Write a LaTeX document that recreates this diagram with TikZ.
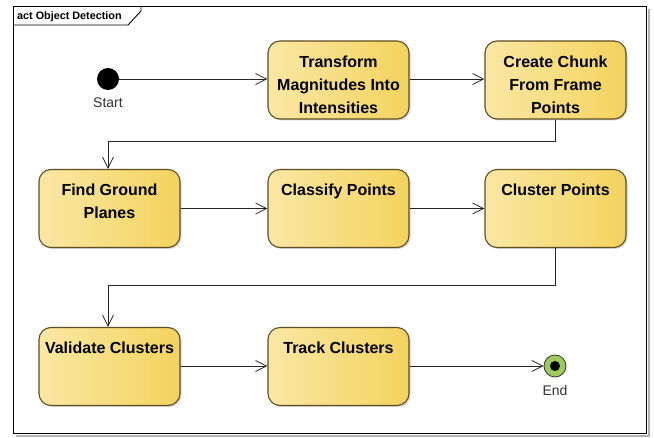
\documentclass[tikz,border=0pt]{standalone}
\usepackage{fontspec}
\setmainfont{Liberation Sans}
\usetikzlibrary{arrows.meta,shadows}
\definecolor{boxL}{HTML}{FAE7A4}
\definecolor{boxR}{HTML}{F3D35E}
\definecolor{boxD}{HTML}{5E4E22}
\definecolor{endG}{HTML}{9CCB5C}
\begin{document}
\begin{tikzpicture}[x=1pt,y=-1pt,
  box/.style={draw=boxD, line width=1.1pt, rounded corners=12pt, minimum width=141pt, minimum height=78pt, inner sep=0pt,
    left color=boxL, right color=boxR, drop shadow={shadow xshift=1.5pt, shadow yshift=-1.5pt, fill=black!30}},
  lbl/.style={font=\fontsize{16}{23}\selectfont\bfseries, align=center, inner sep=0pt, text=black},
  flow/.style={draw=black!85, line width=0.8pt, -{Straight Barb[length=11pt,width=11pt,line width=0.8pt]}},
  nodecaption/.style={font=\fontsize{14}{16}\selectfont, text=black!80, inner sep=0pt}
]
\useasboundingbox (0,0) rectangle (654,438);
% frame
\draw[black!30, line width=1.5pt] (16,436) -- (649,436) -- (649,9);
\draw[black, line width=0.9pt, fill=white] (13,6) rectangle (646,433);
\draw[black, line width=0.9pt] (13,25) -- (128,25) -- (141,11) -- (141,6);
\node[font=\fontsize{10.8}{12}\selectfont\bfseries, anchor=base west, inner sep=0pt] (title) at (17,19.5) {act Object Detection};

% start
\node[circle, fill=black, minimum size=22pt, inner sep=0pt] (start) at (108,79) {};
\node[nodecaption, anchor=base] (startlbl) at (108,108) {Start};

% boxes
\node[box] (transform) at (338.5,80) {};
\node[box] (chunk) at (555.5,80) {};
\node[box] (ground) at (109.5,208.5) {};
\node[box] (classify) at (338.5,208.5) {};
\node[box] (cluster) at (555.5,208.5) {};
\node[box] (validate) at (109.5,366.5) {};
\node[box] (track) at (338.5,366.5) {};

\node[lbl, anchor=north] (transformT) at ([yshift=-15pt]transform.north) {Transform\\Magnitudes Into\\Intensities};
\node[lbl, anchor=north] (chunkT) at ([yshift=-15pt]chunk.north) {Create Chunk\\From Frame\\Points};
\node[lbl, anchor=north] (groundT) at ([yshift=-15pt]ground.north) {Find Ground\\Planes};
\node[lbl, anchor=north] (classifyT) at ([yshift=-15pt]classify.north) {Classify Points};
\node[lbl, anchor=north] (clusterT) at ([yshift=-15pt]cluster.north) {Cluster Points};
\node[lbl, anchor=north] (validateT) at ([yshift=-15pt]validate.north) {Validate Clusters};
\node[lbl, anchor=north] (trackT) at ([yshift=-15pt]track.north) {Track Clusters};

% end
\node[circle, draw=black!80, line width=0.8pt, fill=endG, minimum size=22pt, inner sep=0pt] (end) at (555,366) {};
\node[circle, fill=black, minimum size=10pt, inner sep=0pt] (enddot) at (end.center) {};
\node[nodecaption, anchor=base] (endlbl) at (555,396) {End};

% connectors
\coordinate (c1a) at (555.5,141);
\coordinate (c1b) at (108,141);
\coordinate (c2a) at (555.5,285);
\coordinate (c2b) at (108,285);
\draw[flow] (start) -- (transform.west |- start);
\draw[flow] (transform.east |- start) -- (chunk.west |- start);
\draw[flow] (chunk.south) -- (c1a) -- (c1b) -- (c1b |- ground.north);
\draw[flow] (ground.east) -- (classify.west);
\draw[flow] (classify.east) -- (cluster.west);
\draw[flow] (cluster.south) -- (c2a) -- (c2b) -- (c2b |- validate.north);
\draw[flow] (validate.east |- end) -- (track.west |- end);
\draw[flow] (track.east |- end) -- (end.west);
\end{tikzpicture}
\end{document}
